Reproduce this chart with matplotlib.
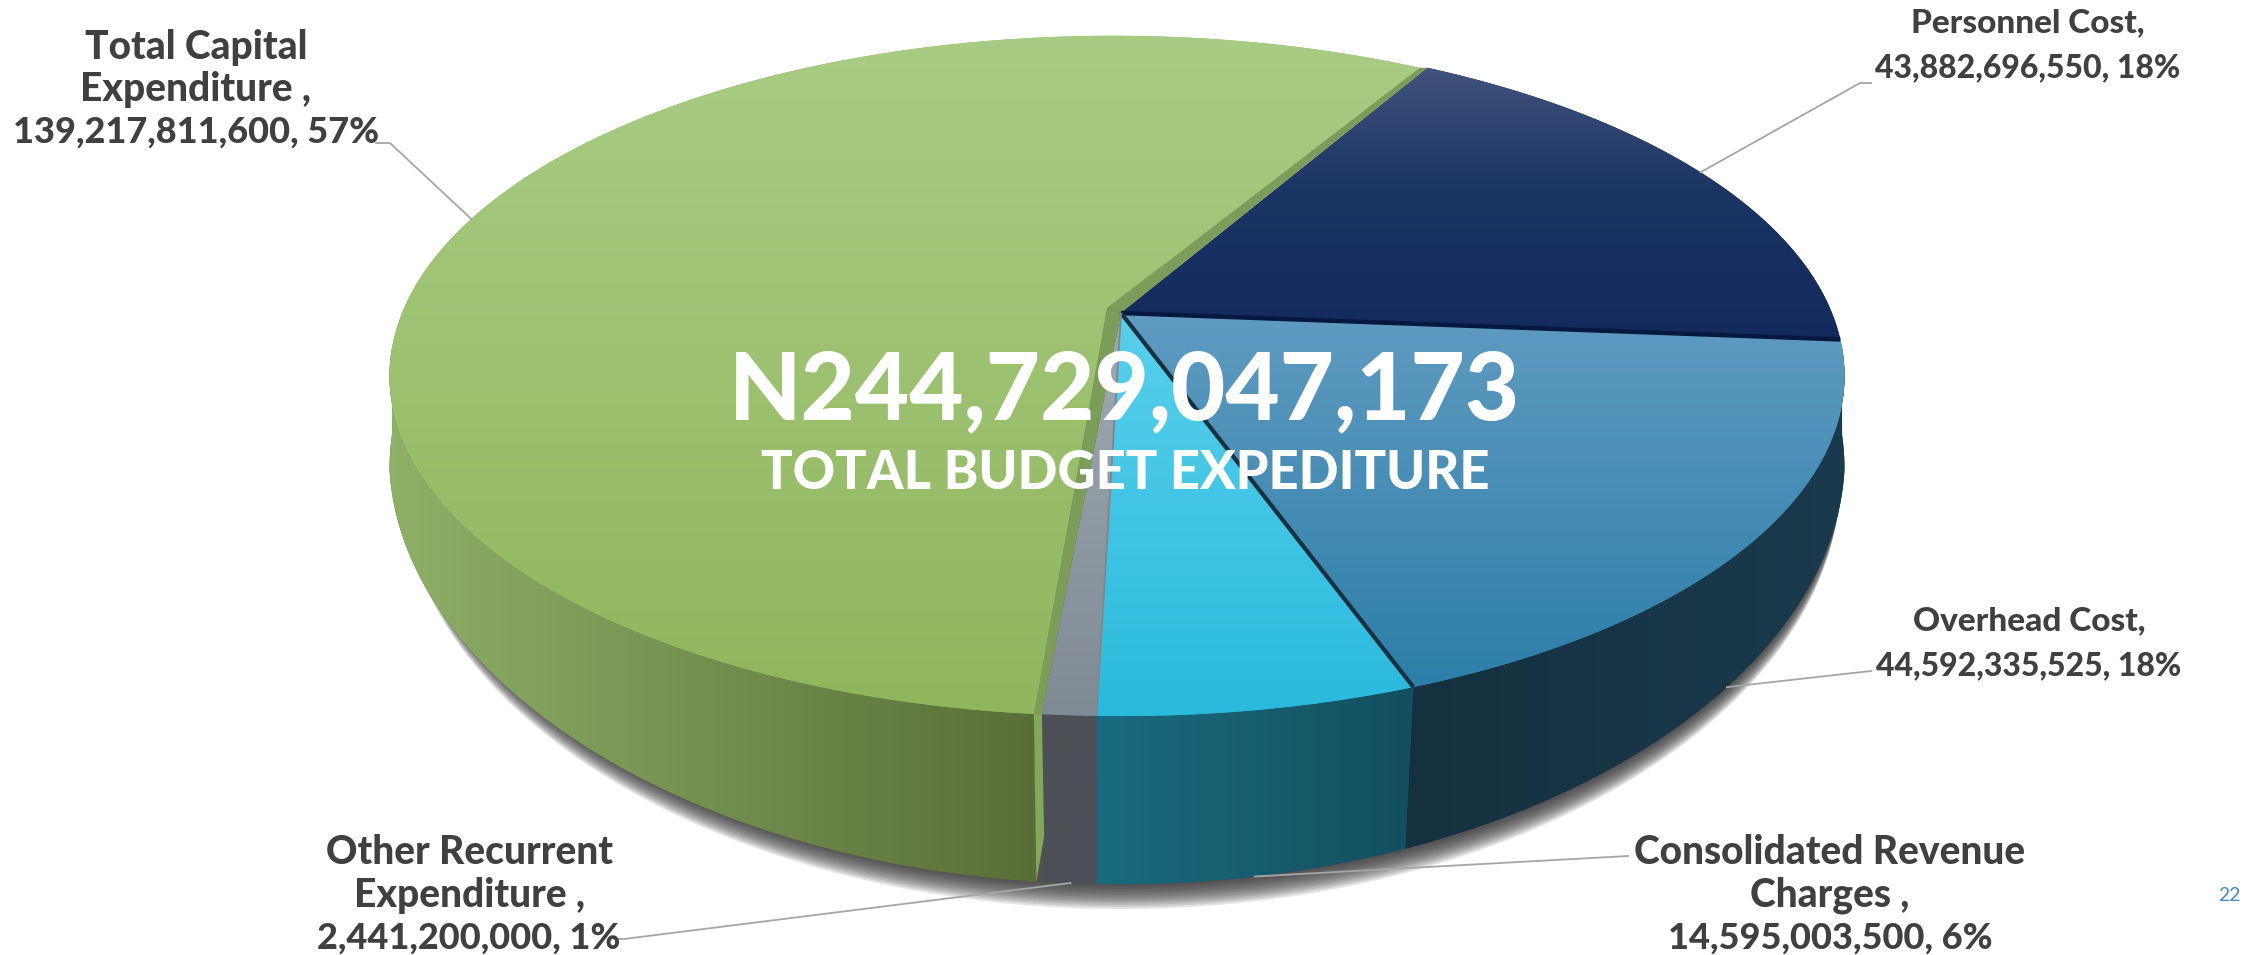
import numpy as np
import matplotlib
matplotlib.use("Agg")
import matplotlib.pyplot as plt
from matplotlib.colors import LinearSegmentedColormap
from matplotlib.patches import Polygon

categories = ["Personnel Cost", "Overhead Cost", "Consolidated Revenue Charges",
              "Other Recurrent Expenditure", "Total Capital Expenditure"]
label_heads = ["Personnel Cost,", "Overhead Cost,", "Consolidated Revenue\nCharges ,",
               "Other Recurrent\nExpenditure ,", "Total Capital\nExpenditure ,"]
values = [43882696550, 44592335525, 14595003500, 2441200000, 139217811600]
percents = [18, 18, 6, 1, 57]
total_text = "N244,729,047,173"
sub_text = "TOTAL BUDGET EXPEDITURE"
page_no = "22"

# layout, in pixels of the output
W, H = 2249, 955
APEX_X, APEX_Y = 1121, 313
RAD_X, RAD_Y, PERSP = 711, 328.5, 0.185
START = -60.0
WALL_FRONT, WALL_SLOPE = 168, 0.22
CENTER_X = 1117
RIM_OFF = (-8, 0)
APEX_OFF = (-14, -5)

top_cols = [["#4c5a83", "#1b3565", "#122a5c"], ["#609bc1", "#2c7ea8"], ["#58d0ed", "#2abadc"],
            ["#a0aab3", "#7e8a94"], ["#a9cc84", "#8fb65c"]]
wall_cols = [["#143244", "#143244"], ["#15313f", "#1a3a4d"], ["#1a6b7f", "#13505e"],
             ["#4c5056", "#4c5157"], ["#8fb268", "#586e37"]]
top_spans = [(36, 340), (313, 690), (313, 716), (313, 716), (36, 716)]
wall_spans = [(1700, 1846), (1400, 1846), (1090, 1410), (1035, 1095), (370, 1040)]

label_pos = [(2028, 45), (2029, 643), (1830, 895), (469, 895), (196, 90)]
line_gaps = [45, 45, 43, 43, 42]
head_sizes = [24, 24, 28, 28, 28]
num_sizes = [23, 23, 26, 26, 26]
leader_ends = [[(1860, 83), (1871, 83)], [(1871, 671)], [(1628, 856)],
               [(624, 939), (615, 939)], [(390, 143), (376, 143)]]
leader_on_wall = [False, True, True, True, False]
leader_turn = [0, 3, 0, 0, 0]


def rim(theta, off=(0, 0)):
    t = np.radians(theta)
    u, v = np.cos(t), np.sin(t)
    w = 1 - PERSP * v
    return APEX_X + off[0] + RAD_X * u / w, APEX_Y + off[1] + RAD_Y * v / w


def lower(x, y):
    # base outline: wall height grows toward the viewer, width narrows a little
    s = 1 - 0.03 * np.clip(y - 376, 0, None) / 340
    return CENTER_X + s * (x - CENTER_X), y + WALL_FRONT + WALL_SLOPE * (y - 716)


def grad_fill(ax, xs, ys, cols, span, vertical, z):
    cmap = LinearSegmentedColormap.from_list("g", cols)
    ramp = np.linspace(0, 1, 256)
    if vertical:
        img = ramp[:, None]
        ext = (xs.min() - 2, xs.max() + 2, span[1], span[0])
    else:
        img = ramp[None, :]
        ext = (span[0], span[1], ys.max() + 2, ys.min() - 2)
    im = ax.imshow(img, cmap=cmap, extent=ext, aspect="auto", zorder=z, interpolation="bilinear")
    # the span may be narrower than the shape, so lay the end colours under it
    base = Polygon(np.c_[xs, ys], closed=True, fc=cols[-1], ec="none", zorder=z - 0.1)
    ax.add_patch(base)
    clip = Polygon(np.c_[xs, ys], closed=True, transform=ax.transData)
    im.set_clip_path(clip)


fig = plt.figure(figsize=(W / 100, H / 100), dpi=100)
ax = fig.add_axes([0, 0, 1, 1])
ax.axis("off")

plt.rcParams["font.family"] = ["Lato", "DejaVu Sans"]

share = np.array(values, dtype=float) / sum(values)
edges = START + np.r_[0, np.cumsum(share)] * 360
mids = (edges[:-1] + edges[1:]) / 2

# soft shadow below the base
ang = np.linspace(-20, 200, 200)
bx, by = lower(*rim(ang))
for i in range(13):
    ax.add_patch(Polygon(np.c_[CENTER_X + (bx - CENTER_X) * (1 - 0.0006 * i), by + 2.0 * i + 1],
                         closed=True, fc="#333333", ec="none", alpha=0.13, zorder=1))

# side walls, front part only
z = 2
for i in [1, 2, 3, 4]:
    a0, a1 = max(edges[i], 6), min(edges[i + 1], 174)
    th = np.linspace(a0, a1, 120)
    off = RIM_OFF if i == 4 else (0, 0)
    x1, y1 = rim(th, off)
    x2, y2 = lower(x1, y1)
    grad_fill(ax, np.r_[x1, x2[::-1]], np.r_[y1, y2[::-1]], wall_cols[i], wall_spans[i], False, z)
    z += 1

# sliver on the wall of the pulled out slice
tx, ty = rim(edges[4], RIM_OFF)
ux, uy = rim(edges[4])
lx, ly = lower(tx, ty)
mx, my = lower(ux, uy)
ax.add_patch(Polygon([(tx, ty), (ux, uy), (mx, my - 45), (lx, ly)], closed=True, fc="#84a85a", ec="none", zorder=z))
z += 1

# top faces
for i in range(5):
    th = np.linspace(edges[i], edges[i + 1], 240)
    off = RIM_OFF if i == 4 else (0, 0)
    x, y = rim(th, off)
    if i == 4:
        # cut edges of the pulled out slice, from the pie centre out to the rim
        cx, cy = APEX_X + APEX_OFF[0], APEX_Y + APEX_OFF[1]
        for a in [edges[4], edges[5]]:
            ex, ey = rim(a)
            fx, fy = rim(a, RIM_OFF)
            ax.add_patch(Polygon([(cx, cy), (APEX_X, APEX_Y), (ex, ey), (fx, fy)], closed=True,
                                 fc="#7c9c59", ec="none", zorder=z))
        z += 1
        xs = np.r_[cx, x]
        ys = np.r_[cy, y]
    else:
        xs = np.r_[APEX_X, x]
        ys = np.r_[APEX_Y, y]
    grad_fill(ax, xs, ys, top_cols[i], top_spans[i], True, z + 1)
    z += 2

# seams between slices
seam_cols = ["#061840", "#163040", "#7f8890"]
for i, c, lw in zip([1, 2, 3], seam_cols, [3.2, 3.0, 1.4]):
    ex, ey = rim(edges[i])
    ax.plot([APEX_X, ex], [APEX_Y, ey], color=c, lw=lw, solid_capstyle="butt", zorder=z)

# leader lines
for i in range(5):
    off = RIM_OFF if i == 4 else (0, 0)
    sx, sy = rim(mids[i] + leader_turn[i], off)
    if leader_on_wall[i]:
        sx, sy = lower(sx, sy)
    px = [sx] + [p[0] for p in leader_ends[i]]
    py = [sy] + [p[1] for p in leader_ends[i]]
    ax.plot(px, py, color="#a6a6a6", lw=1.3, zorder=z + 1)

# labels, one text per line so the spacing can follow the reference
for i in range(5):
    lines = label_heads[i].split("\n") + [f"{values[i]:,}, {percents[i]}%"]
    for j, line in enumerate(lines):
        y = label_pos[i][1] + (j - (len(lines) - 1) / 2) * line_gaps[i]
        size = num_sizes[i] if j == len(lines) - 1 else head_sizes[i]
        ax.text(label_pos[i][0], y, line, ha="center", va="center", fontsize=size,
                fontweight="black", color="#404040", zorder=z + 2)

ax.text(1125, 392, total_text, ha="center", va="center", fontsize=67.5, fontweight="black",
        color="white", zorder=z + 3)
ax.text(1125, 473, sub_text, ha="center", va="center", fontsize=37.8, fontweight="black",
        color="white", zorder=z + 3)
ax.text(2229, 895, page_no, ha="center", va="center", fontsize=14, color="#3f8fc0", zorder=z + 3)

ax.set_xlim(0, W)
ax.set_ylim(H, 0)
fig.savefig("out.png", dpi=100, facecolor="white")
